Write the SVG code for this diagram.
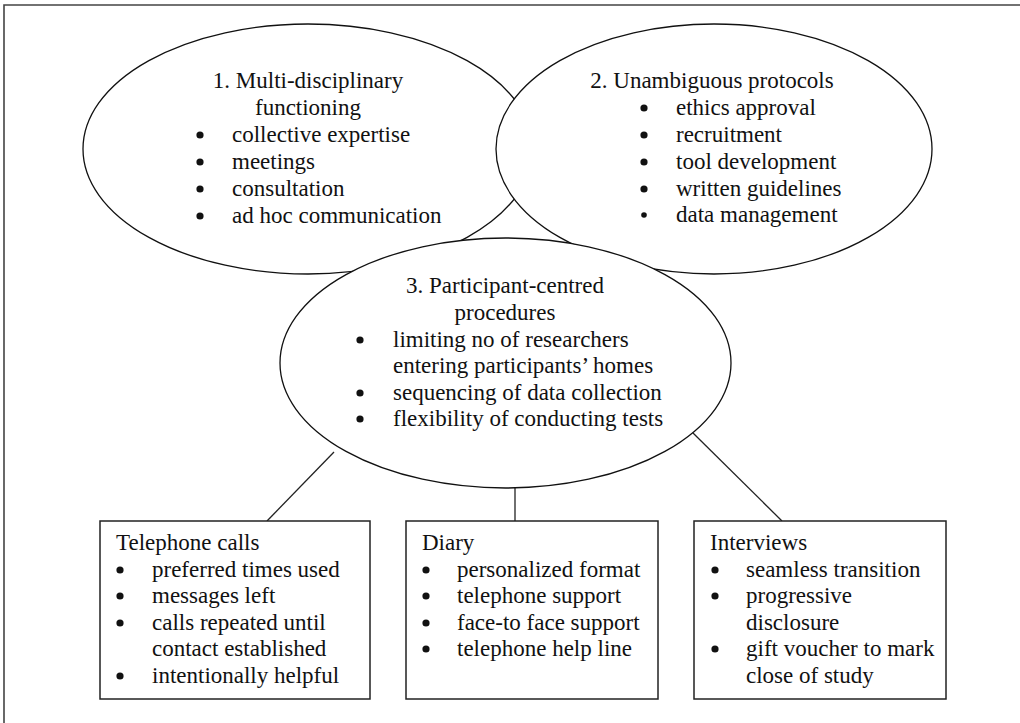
<svg xmlns="http://www.w3.org/2000/svg" width="1020" height="723" viewBox="0 0 1020 723" font-family="'Liberation Serif', 'Times New Roman', serif">
  <style>
    .frame { stroke: #444; stroke-width: 1.6; fill: none; }
    .oval { fill: #fff; stroke: #111; stroke-width: 1.3; }
    .box { fill: #fff; stroke: #222; stroke-width: 1.5; }
    .link { stroke: #222; stroke-width: 1.3; fill: none; }
    text { font-family: "Liberation Serif", "Times New Roman", serif; font-size: 23px; fill: #111; }
    .mid { text-anchor: middle; }
    .dot { fill: #111; }
  </style>
  <defs>
    <circle id="bullet" r="3.6" class="dot"/>
    <circle id="bullet-small" r="2.8" class="dot"/>
  </defs>

  <rect width="1020" height="723" fill="#fff"/>
  <!-- page frame: top and left edges only -->
  <path class="frame" d="M4,723 V5 H1020"/>

  <!-- connectors from node 3 to the three method boxes -->
  <g id="connectors">
    <line class="link" x1="334" y1="452" x2="267" y2="521"/>
    <line class="link" x1="515" y1="488" x2="515" y2="521"/>
    <line class="link" x1="693" y1="433" x2="782" y2="521"/>
  </g>

  <g id="node1">
    <ellipse class="oval" cx="308" cy="149" rx="225" ry="125"/>
    <text class="mid" x="308" y="88">1. Multi-disciplinary</text>
    <text class="mid" x="308" y="115">functioning</text>
    <use href="#bullet" x="200" y="135"/><text x="232" y="142">collective expertise</text>
    <use href="#bullet" x="200" y="162"/><text x="232" y="169">meetings</text>
    <use href="#bullet" x="200" y="189"/><text x="232" y="196">consultation</text>
    <use href="#bullet" x="200" y="216"/><text x="232" y="223">ad hoc communication</text>
  </g>

  <g id="node2">
    <ellipse class="oval" cx="714" cy="149" rx="218" ry="125"/>
    <text class="mid" x="712" y="88">2. Unambiguous protocols</text>
    <use href="#bullet" x="644" y="108"/><text x="676" y="115">ethics approval</text>
    <use href="#bullet" x="644" y="135"/><text x="676" y="142">recruitment</text>
    <use href="#bullet" x="644" y="162"/><text x="676" y="169">tool development</text>
    <use href="#bullet" x="644" y="189"/><text x="676" y="196">written guidelines</text>
    <use href="#bullet-small" x="644" y="215"/><text x="676" y="222">data management</text>
  </g>

  <g id="node3">
    <ellipse class="oval" cx="505.5" cy="363" rx="225.5" ry="125"/>
    <text class="mid" x="505" y="293">3. Participant-centred</text>
    <text class="mid" x="505" y="320">procedures</text>
    <use href="#bullet" x="360" y="340"/><text x="393" y="347">limiting no of researchers</text>
    <text x="393" y="373">entering participants’ homes</text>
    <use href="#bullet" x="360" y="393"/><text x="393" y="400">sequencing of data collection</text>
    <use href="#bullet" x="360" y="419"/><text x="393" y="426">flexibility of conducting tests</text>
  </g>

  <g id="telephone-calls">
    <rect class="box" x="100" y="521" width="270" height="178"/>
    <text x="116" y="550">Telephone calls</text>
    <use href="#bullet" x="120" y="570"/><text x="152" y="577">preferred times used</text>
    <use href="#bullet" x="120" y="596"/><text x="152" y="603">messages left</text>
    <use href="#bullet" x="120" y="623"/><text x="152" y="630">calls repeated until</text>
    <text x="152" y="656">contact established</text>
    <use href="#bullet" x="120" y="676"/><text x="152" y="683">intentionally helpful</text>
  </g>

  <g id="diary">
    <rect class="box" x="406" y="521" width="252" height="178"/>
    <text x="422" y="550">Diary</text>
    <use href="#bullet" x="426" y="570"/><text x="457" y="577">personalized format</text>
    <use href="#bullet" x="426" y="596"/><text x="457" y="603">telephone support</text>
    <use href="#bullet" x="426" y="623"/><text x="457" y="630">face-to face support</text>
    <use href="#bullet" x="426" y="649"/><text x="457" y="656">telephone help line</text>
  </g>

  <g id="interviews">
    <rect class="box" x="694" y="521" width="252" height="178"/>
    <text x="710" y="550">Interviews</text>
    <use href="#bullet" x="715" y="570"/><text x="746" y="577">seamless transition</text>
    <use href="#bullet" x="715" y="596"/><text x="746" y="603">progressive</text>
    <text x="746" y="630">disclosure</text>
    <use href="#bullet" x="715" y="649"/><text x="746" y="656">gift voucher to mark</text>
    <text x="746" y="683">close of study</text>
  </g>
</svg>
